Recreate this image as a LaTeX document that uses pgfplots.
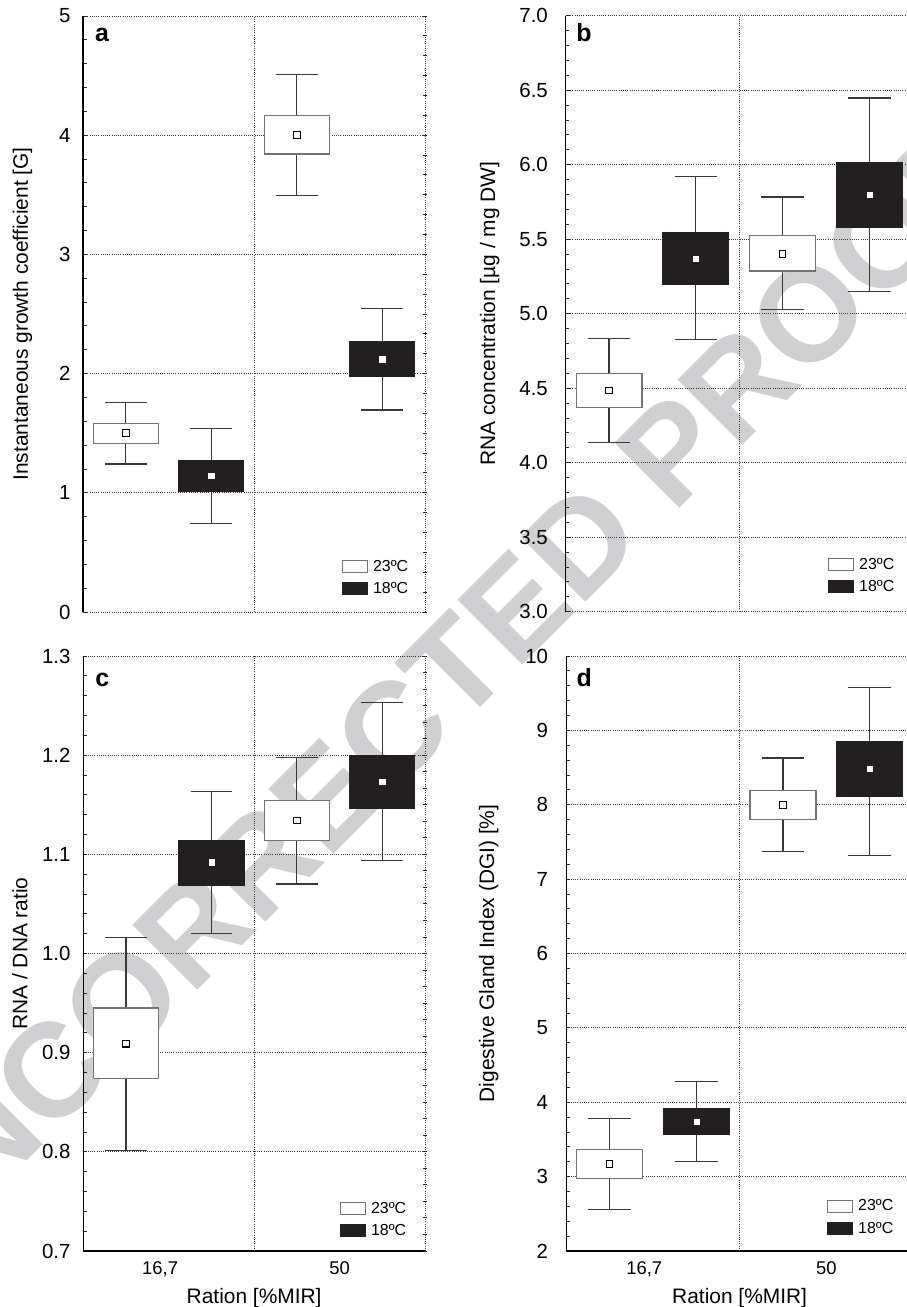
\documentclass[border=0pt]{standalone}
\usepackage{fontspec}
\setmainfont{Liberation Sans}
\usepackage{pgfplots}
\pgfplotsset{compat=1.18}
\usepgfplotslibrary{statistics}
\definecolor{blk}{HTML}{231F20}
\definecolor{wm}{HTML}{D0D0D2}
\definecolor{grd}{HTML}{3A3A3A}

\pgfplotsset{
  panel/.style={
    scale only axis, anchor=south west,
    xmin=0, xmax=4,
    axis x line*=bottom, axis y line*=left,
    axis line style={black, line width=1.2bp},
    xtick={0.9,3}, xticklabels={{16,7},{50}},
    xtick style={draw=none},
    extra x ticks={2}, extra x tick labels={},
    extra x tick style={grid=major, tick style={draw=none}},
    ymajorgrids,
    major grid style={grd, line width=0.9bp, dash pattern=on 1bp off 1.2bp},
    minor y tick num=4,
    tick align=inside,
    major tick length=4bp, minor tick length=3.5bp,
    ytick style={black!85, line width=0.9bp},
    yticklabel style={font=\fontsize{20.5}{24}\selectfont, anchor=east, inner sep=0pt},
    xticklabel style={font=\fontsize{18.5}{22}\selectfont, anchor=base, inner sep=0pt, yshift=-23.3bp},
    /pgf/number format/assume math mode=true,
    xlabel style={font=\fontsize{21}{25}\selectfont, at={(axis description cs:0.5,0)}, anchor=base, inner sep=0pt, yshift=-52.3bp},
    legend cell align=left,
    legend style={draw=none, fill=none, inner sep=0pt, outer sep=0pt,
      font=\fontsize{16}{18}\selectfont, row sep=9bp, column sep=5bp,
      nodes={inner sep=0pt}},
    legend image code/.code={\draw[##1] (0bp,-6bp) rectangle (25bp,6bp);},
  },
  redge/.style={
    scale only axis, anchor=south west,
    xmin=0, xmax=4,
    axis x line=none, axis y line*=right,
    y axis line style={grd, line width=0.9bp, dash pattern=on 1bp off 1.2bp},
    yticklabels={},
    tick align=center,
    major tick length=4.5bp, minor tick length=4.5bp,
    ytick style={black!85, line width=0.9bp},
    minor y tick num=5,
  },
  boxplot/bx/.style={draw direction=y, box extend=0.76, whisker extend=0.49},
  wbox/.style={forget plot, solid, draw=black!55, fill=white, line width=1.2bp,
    boxplot/every whisker/.style={draw=black!78},
    boxplot/every median/.style={draw=none}},
  bbox/.style={forget plot, solid, draw=blk, fill=blk, line width=1.2bp,
    boxplot/every whisker/.style={draw=black!78},
    boxplot/every median/.style={draw=none}},
  wmean/.style={forget plot, only marks, mark=square*, mark size=3.3bp,
    mark options={fill=white, draw=black, line width=1.1bp, solid}},
  bmean/.style={forget plot, only marks, mark=square*, mark size=2.6bp,
    mark options={fill=white, draw=white, solid}},
}

\newcommand{\panellegend}{%
  \addlegendimage{draw=black!55, fill=white, line width=1.2bp}
  \addlegendentry{23ºC}
  \addlegendimage{draw=blk, fill=blk, line width=1.2bp}
  \addlegendentry{18ºC}
}

\begin{document}
\begin{tikzpicture}[x=1bp,y=1bp]
% watermark
\node[rotate=45, text=wm, font=\bfseries\fontsize{134}{134}\selectfont, inner sep=0pt]
  at (429bp,613bp) {UNCORRECTED PROOF};

% ---------------- panel a ----------------
\begin{axis}[panel, at={(83bp,695bp)}, width=342bp, height=596bp,
  ymin=0, ymax=5, ytick={0,1,2,3,4,5},
  xticklabels={}, x axis line style={draw=none},
  yticklabel style={xshift=-12.3bp},
  ylabel={Instantaneous growth coefficient [G]},
  ylabel style={font=\fontsize{21}{25}\selectfont, at={([xshift=-55bp]axis description cs:0,0.5)}, anchor=base, inner sep=0pt},
  legend style={at={(axis description cs:0.757,0.0285)}, anchor=south west},
]
\addplot[wbox, boxplot prepared={bx, draw position=0.5, lower whisker=1.242, lower quartile=1.415, median=1.500, upper quartile=1.583, upper whisker=1.759}] coordinates {};
\addplot[bbox, boxplot prepared={bx, draw position=1.5, lower whisker=0.741, lower quartile=1.009, median=1.141, upper quartile=1.267, upper whisker=1.538}] coordinates {};
\addplot[wbox, boxplot prepared={bx, draw position=2.5, lower whisker=3.493, lower quartile=3.842, median=4.002, upper quartile=4.164, upper whisker=4.511}] coordinates {};
\addplot[bbox, boxplot prepared={bx, draw position=3.5, lower whisker=1.695, lower quartile=1.980, median=2.120, upper quartile=2.265, upper whisker=2.548}] coordinates {};
\addplot[wmean] coordinates {(0.5,1.500) (2.5,4.002)};
\addplot[bmean] coordinates {(1.5,1.141) (3.5,2.120)};
\panellegend
\node[anchor=base west, inner sep=0pt, font=\bfseries\fontsize{25}{25}\selectfont] at ([xshift=12bp,yshift=-26bp]rel axis cs:0,1) {a};
\end{axis}
\begin{axis}[redge, at={(83bp,695bp)}, width=342bp, height=596bp, ymin=0, ymax=5, ytick={0,1,2,3,4,5}]
\end{axis}

% ---------------- panel b ----------------
\begin{axis}[panel, at={(565.7bp,695.3bp)}, width=347bp, height=596bp,
  ymin=3, ymax=7, ytick={3,3.5,4,4.5,5,5.5,6,6.5,7},
  yticklabel style={xshift=-17.7bp, /pgf/number format/.cd, fixed, fixed zerofill, precision=1},
  xticklabels={}, x axis line style={draw=none},
  ylabel={RNA concentration [µg / mg DW]},
  ylabel style={font=\fontsize{21}{25}\selectfont, at={([xshift=-70.7bp]axis description cs:0,0.5)}, anchor=base, inner sep=0pt},
  legend style={at={(axis description cs:0.756,0.031)}, anchor=south west},
]
\addplot[wbox, boxplot prepared={bx, draw position=0.5, lower whisker=4.135, lower quartile=4.368, median=4.484, upper quartile=4.601, upper whisker=4.833}] coordinates {};
\addplot[bbox, boxplot prepared={bx, draw position=1.5, lower whisker=4.825, lower quartile=5.196, median=5.371, upper quartile=5.545, upper whisker=5.921}] coordinates {};
\addplot[wbox, boxplot prepared={bx, draw position=2.5, lower whisker=5.028, lower quartile=5.286, median=5.402, upper quartile=5.525, upper whisker=5.783}] coordinates {};
\addplot[bbox, boxplot prepared={bx, draw position=3.5, lower whisker=5.149, lower quartile=5.579, median=5.799, upper quartile=6.015, upper whisker=6.448}] coordinates {};
\addplot[wmean] coordinates {(0.5,4.484) (2.5,5.402)};
\addplot[bmean] coordinates {(1.5,5.371) (3.5,5.799)};
\panellegend
\node[anchor=base west, inner sep=0pt, font=\bfseries\fontsize{25}{25}\selectfont] at ([xshift=10.5bp,yshift=-26bp]rel axis cs:0,1) {b};
\end{axis}
\begin{axis}[redge, at={(565.7bp,695.3bp)}, width=347bp, height=596bp, ymin=3, ymax=7, ytick={3,3.5,4,4.5,5,5.5,6,6.5,7}]
\end{axis}

% ---------------- panel c ----------------
\begin{axis}[panel, at={(83.3bp,56bp)}, width=341.7bp, height=595bp,
  ymin=0.7, ymax=1.3, ytick={0.7,0.8,0.9,1.0,1.1,1.2,1.3},
  yticklabel style={xshift=-12.6bp, /pgf/number format/.cd, fixed, fixed zerofill, precision=1},
  xlabel={Ration [\%MIR]},
  ylabel={RNA / DNA ratio},
  ylabel style={font=\fontsize{21}{25}\selectfont, at={([xshift=-56bp]axis description cs:0,0.5)}, anchor=base, inner sep=0pt},
  legend style={at={(axis description cs:0.751,0.0235)}, anchor=south west},
]
\addplot[wbox, boxplot prepared={bx, draw position=0.5, lower whisker=0.801, lower quartile=0.874, median=0.909, upper quartile=0.945, upper whisker=1.016}] coordinates {};
\addplot[bbox, boxplot prepared={bx, draw position=1.5, lower whisker=1.020, lower quartile=1.0685, median=1.092, upper quartile=1.114, upper whisker=1.163}] coordinates {};
\addplot[wbox, boxplot prepared={bx, draw position=2.5, lower whisker=1.070, lower quartile=1.114, median=1.134, upper quartile=1.154, upper whisker=1.1975}] coordinates {};
\addplot[bbox, boxplot prepared={bx, draw position=3.5, lower whisker=1.094, lower quartile=1.146, median=1.173, upper quartile=1.200, upper whisker=1.253}] coordinates {};
\addplot[wmean] coordinates {(0.5,0.909) (2.5,1.134)};
\addplot[bmean] coordinates {(1.5,1.092) (3.5,1.173)};
\panellegend
\node[anchor=base west, inner sep=0pt, font=\bfseries\fontsize{25}{25}\selectfont] at ([xshift=12bp,yshift=-31bp]rel axis cs:0,1) {c};
\end{axis}
\begin{axis}[redge, at={(83.3bp,56bp)}, width=341.7bp, height=595bp, ymin=0.7, ymax=1.3, ytick={0.7,0.8,0.9,1.0,1.1,1.2,1.3}]
\end{axis}

% ---------------- panel d ----------------
\begin{axis}[panel, at={(566.3bp,56bp)}, width=346.7bp, height=595bp,
  ymin=2, ymax=10, ytick={2,3,4,5,6,7,8,9,10},
  yticklabel style={xshift=-18bp},
  xlabel={Ration [\%MIR]},
  ylabel={Digestive Gland Index (DGI) [\%]},
  ylabel style={font=\fontsize{21}{25}\selectfont, at={([xshift=-72.3bp]axis description cs:0,0.5)}, anchor=base, inner sep=0pt},
  legend style={at={(axis description cs:0.752,0.027)}, anchor=south west},
]
\addplot[wbox, boxplot prepared={bx, draw position=0.5, lower whisker=2.560, lower quartile=2.977, median=3.169, upper quartile=3.362, upper whisker=3.778}] coordinates {};
\addplot[bbox, boxplot prepared={bx, draw position=1.5, lower whisker=3.206, lower quartile=3.568, median=3.738, upper quartile=3.913, upper whisker=4.281}] coordinates {};
\addplot[wbox, boxplot prepared={bx, draw position=2.5, lower whisker=7.370, lower quartile=7.800, median=7.997, upper quartile=8.195, upper whisker=8.629}] coordinates {};
\addplot[bbox, boxplot prepared={bx, draw position=3.5, lower whisker=7.321, lower quartile=8.113, median=8.481, upper quartile=8.848, upper whisker=9.574}] coordinates {};
\addplot[wmean] coordinates {(0.5,3.169) (2.5,7.997)};
\addplot[bmean] coordinates {(1.5,3.738) (3.5,8.481)};
\panellegend
\node[anchor=base west, inner sep=0pt, font=\bfseries\fontsize{25}{25}\selectfont] at ([xshift=10bp,yshift=-31bp]rel axis cs:0,1) {d};
\end{axis}
\begin{axis}[redge, at={(566.3bp,56bp)}, width=346.7bp, height=595bp, ymin=2, ymax=10, ytick={2,3,4,5,6,7,8,9,10}]
\end{axis}

\pgfresetboundingbox
\useasboundingbox (0bp,0bp) rectangle (907bp,1307bp);
\end{tikzpicture}
\end{document}
